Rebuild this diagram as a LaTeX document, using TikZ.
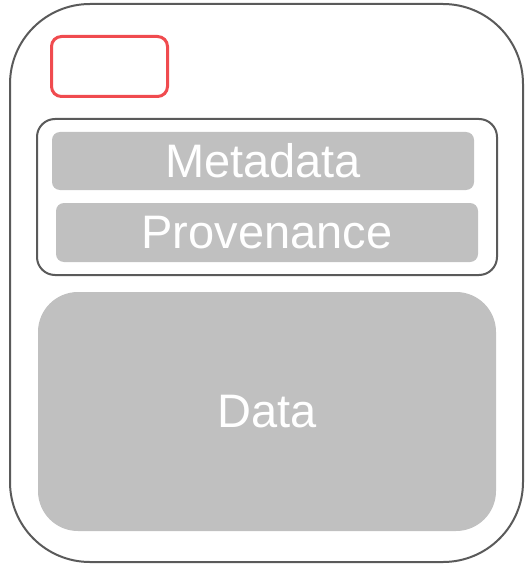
\documentclass[tikz,border=0pt]{standalone}
\usepackage{fontspec}
\setmainfont{Liberation Sans}
\definecolor{framegray}{HTML}{5A5A5A}
\definecolor{barfill}{HTML}{C0C0C0}
\definecolor{tagred}{HTML}{F04B4F}
\begin{document}
\begin{tikzpicture}[x=1pt,y=-1pt,
  box/.style={rectangle,inner sep=0pt,anchor=center},
  frame/.style={box,draw=framegray,line width=2pt,fill=white},
  bar/.style={box,fill=barfill,text=white,font=\fontsize{47}{56}\selectfont},
  tag/.style={box,draw=tagred,line width=3pt,rounded corners=10pt}]
  \useasboundingbox (0,0) rectangle (525,564);
  % outer container
  \node[frame,rounded corners=80pt,minimum width=513pt,minimum height=558pt] (outer) at (266.5,283) {};
  % red tag in the upper left
  \node[tag,minimum width=116pt,minimum height=60pt] (tag) at (109.5,66.5) {};
  % group holding the two descriptive bars
  \node[frame,rounded corners=18pt,minimum width=460pt,minimum height=156pt] (group) at (267,197) {};
  \node[bar,rounded corners=8pt,minimum width=422pt,minimum height=58pt] (meta) at (263,161) {Metadata};
  \node[bar,rounded corners=8pt,minimum width=422pt,minimum height=59pt] (prov) at (267,232.5) {Provenance};
  % payload
  \node[bar,rounded corners=40pt,minimum width=458pt,minimum height=239pt] (data) at (267,411.5) {Data};
\end{tikzpicture}
\end{document}
